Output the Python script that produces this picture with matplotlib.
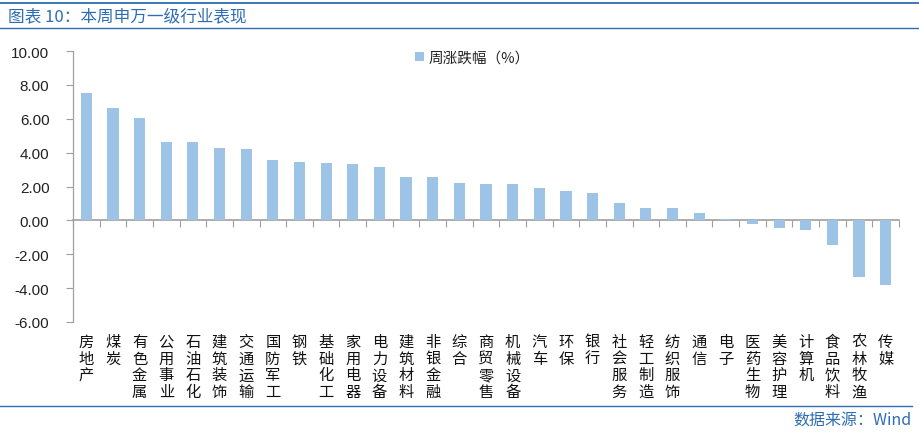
import matplotlib
matplotlib.use("Agg")
import matplotlib.pyplot as plt
from matplotlib.lines import Line2D
from matplotlib.patches import Patch
import matplotlib.transforms as mtrans
import numpy as np

plt.rcParams['font.family'] = ['Noto Sans CJK SC', 'DejaVu Sans']

categories = ["房地产", "煤炭", "有色金属", "公用事业", "石油石化", "建筑装饰", "交通运输",
              "国防军工", "钢铁", "基础化工", "家用电器", "电力设备", "建筑材料", "非银金融",
              "综合", "商贸零售", "机械设备", "汽车", "环保", "银行", "社会服务", "轻工制造",
              "纺织服饰", "通信", "电子", "医药生物", "美容护理", "计算机", "食品饮料",
              "农林牧渔", "传媒"]
values = [7.54, 6.66, 6.03, 4.65, 4.63, 4.27, 4.21, 3.54, 3.42, 3.37, 3.31, 3.15, 2.56, 2.54,
          2.19, 2.13, 2.13, 1.92, 1.72, 1.60, 1.05, 0.73, 0.71, 0.45, 0.10, -0.22, -0.46,
          -0.58, -1.46, -3.33, -3.84]
yticks = [-6, -4, -2, 0, 2, 4, 6, 8, 10]
series_label = "周涨跌幅（%）"
title = "图表 10：本周申万一级行业表现"
source = "数据来源：Wind"

bar_color = "#9DC3E6"
blue = "#2E6DB4"

fig = plt.figure(figsize=(9.19, 4.35), dpi=100)
ax = fig.add_axes([73/919, 1 - 323/435, (899-73)/919, (323-52)/435])

x = np.arange(len(categories))
ax.bar(x, values, width=0.42, color=bar_color, edgecolor="none", zorder=2)

ax.set_xlim(-0.5, len(categories) - 0.5)
ax.set_ylim(min(yticks), max(yticks))
ax.set_yticks(yticks)
ax.set_yticklabels([f"{v:.2f}" for v in yticks], fontsize=11, color="#222222",
                   family=['Liberation Sans', 'DejaVu Sans'])
ax.tick_params(axis='y', length=5, width=0.8, color="#A0A0A0", direction='out', pad=12)

for s in ['top', 'right']:
    ax.spines[s].set_visible(False)
ax.spines['left'].set_color("#A0A0A0")
ax.spines['left'].set_linewidth(0.9)
ax.spines['bottom'].set_position(('data', 0))
ax.spines['bottom'].set_color("#A0A0A0")
ax.spines['bottom'].set_linewidth(1.2)
ax.spines['bottom'].set_zorder(1)

ax.set_xticks([])
ax.set_xticks(np.arange(len(categories) + 1) - 0.5, minor=True)
ax.tick_params(axis='x', which='minor', length=5, width=0.8, color="#A0A0A0", direction='out',
               labelbottom=False)

trans = mtrans.blended_transform_factory(ax.transData, ax.transAxes)
for xi, c in zip(x, categories):
    ax.text(xi, -0.04, "\n".join(c), transform=trans, ha='center', va='top',
            fontsize=11, linespacing=0.98, color="#111111")

leg = ax.legend(handles=[Patch(facecolor=bar_color, edgecolor='none')], labels=[series_label],
                loc='upper left', bbox_to_anchor=((402-73)/826, 1.05), frameon=False,
                fontsize=10.5, handlelength=0.6, handleheight=0.6, handletextpad=0.3)
for t in leg.get_texts():
    t.set_color("#222222")

fig.add_artist(Line2D([0, 1], [1 - 4/435, 1 - 4/435], color=blue, linewidth=1.3))
fig.add_artist(Line2D([0, 1], [1 - 29/435, 1 - 29/435], color=blue, linewidth=1.0))
fig.add_artist(Line2D([0, 912/919], [1 - 407/435, 1 - 407/435], color=blue, linewidth=1.0))
fig.text(8/919, 1 - 17/435, title, fontsize=12, color=blue, style='italic',
         ha='left', va='center')
fig.text(912/919, 1 - 421/435, source, fontsize=11.5, color=blue, ha='right', va='center')

fig.savefig("out.png", dpi=100)
